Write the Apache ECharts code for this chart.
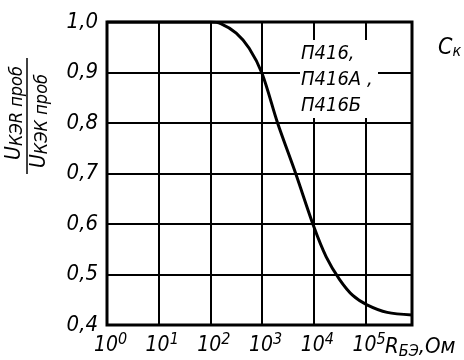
<!DOCTYPE html>
<html>
<head>
<meta charset="utf-8">
<script src="https://cdn.jsdelivr.net/npm/echarts@6/dist/echarts.min.js"></script>
<style>
  html, body { margin: 0; padding: 0; background: #fff; }
  #chart { width: 464px; height: 360px; }
</style>
</head>
<body>
<div id="chart"></div>
<script>
// x is log10(R_БЭ, Ом), y is U_КЭR проб / U_КЭК проб
const logR = [0, 1, 2, 2.2, 2.5, 2.75, 3.0, 3.3, 3.65, 4.0, 4.24, 4.5, 4.76, 5.03, 5.42, 5.9];
const ratio = [1.0, 1.0, 1.0, 0.997, 0.978, 0.948, 0.898, 0.8, 0.7, 0.595, 0.535, 0.49, 0.458, 0.44, 0.425, 0.42];
const xExponents = [0, 1, 2, 3, 4, 5];
const deviceLines = ["П416,", "П416А ,", "П416Б"];

const font = "'DejaVu Sans Condensed', 'Liberation Sans Narrow', 'DejaVu Sans', sans-serif";

const chart = echarts.init(document.getElementById("chart"));

const fracRich = {
  u: { fontFamily: font, fontStyle: "italic", fontSize: 21, fill: "#000" },
  s: { fontFamily: font, fontStyle: "italic", fontSize: 18, fill: "#000", padding: [5, 0, 0, 0] }
};

chart.setOption({
  animation: false,
  backgroundColor: "#fff",
  grid: { left: 107, right: 52, top: 22, bottom: 35, show: true, borderColor: "#000", borderWidth: 3, backgroundColor: "transparent" },
  xAxis: {
    type: "value",
    min: 0,
    max: 5.9,
    interval: 1,
    axisLine: { show: false },
    axisTick: { show: false },
    splitLine: { lineStyle: { color: "#000", width: 2 } },
    axisLabel: {
      margin: 7,
      showMaxLabel: false,
      padding: [0, 0, 0, 7],
      formatter: (v) => (xExponents.includes(v) ? "{b|10}{s|" + v + "}" : ""),
      rich: {
        b: { fontFamily: font, fontStyle: "italic", fontSize: 21, color: "#000", lineHeight: 24, verticalAlign: "bottom" },
        s: { fontFamily: font, fontStyle: "italic", fontSize: 16, color: "#000", lineHeight: 24, verticalAlign: "top" }
      }
    }
  },
  yAxis: {
    type: "value",
    min: 0.4,
    max: 1.0,
    interval: 0.1,
    axisLine: { show: false },
    axisTick: { show: false },
    splitLine: { lineStyle: { color: "#000", width: 2 } },
    axisLabel: {
      margin: 9,
      color: "#000",
      fontFamily: font,
      fontStyle: "italic",
      fontSize: 22,
      formatter: (v) => v.toFixed(1).replace(".", ",")
    }
  },
  graphic: [
    {
      type: "group",
      x: 27,
      y: 116,
      rotation: Math.PI / 2,
      children: [
        {
          type: "text",
          x: 3,
          y: -1,
          style: { text: "{u|U}{s|КЭR проб}", align: "center", verticalAlign: "bottom", rich: fracRich }
        },
        { type: "line", shape: { x1: -58, y1: 0, x2: 58, y2: 0 }, style: { stroke: "#000", lineWidth: 1.5 } },
        {
          type: "text",
          x: -5,
          y: 1,
          style: { text: "{u|U}{s|КЭК проб}", align: "center", verticalAlign: "top", rich: fracRich }
        }
      ]
    },
    {
      type: "rect",
      shape: { x: 300, y: 40, width: 78, height: 78 },
      style: { fill: "#fff" },
      z: 10
    },
    {
      type: "text",
      x: 301,
      y: 41,
      z: 11,
      style: {
        text: deviceLines.join("\n"),
        fontFamily: font,
        fontStyle: "italic",
        fontSize: 20,
        lineHeight: 26,
        fill: "#000"
      }
    },
    {
      type: "text",
      x: 385,
      y: 334,
      style: {
        text: "{r|R}{s|БЭ}{r|,Ом}",
        rich: {
          r: { fontFamily: font, fontStyle: "italic", fontSize: 22, fill: "#000" },
          s: { fontFamily: font, fontStyle: "italic", fontSize: 16, fill: "#000", padding: [10, 0, 0, 0] }
        }
      }
    },
    {
      type: "text",
      x: 438,
      y: 36,
      style: {
        text: "{c|C}{k|к}",
        rich: {
          c: { fontFamily: font, fontStyle: "italic", fontSize: 23, fill: "#000" },
          k: { fontFamily: font, fontStyle: "italic", fontSize: 16, fill: "#000", padding: [8, 0, 0, 0] }
        }
      }
    }
  ],
  series: [
    {
      type: "line",
      data: logR.map((x, i) => [x, ratio[i]]),
      smooth: 0.3,
      showSymbol: false,
      lineStyle: { color: "#000", width: 3 },
      z: 5
    }
  ]
});
</script>
</body>
</html>
